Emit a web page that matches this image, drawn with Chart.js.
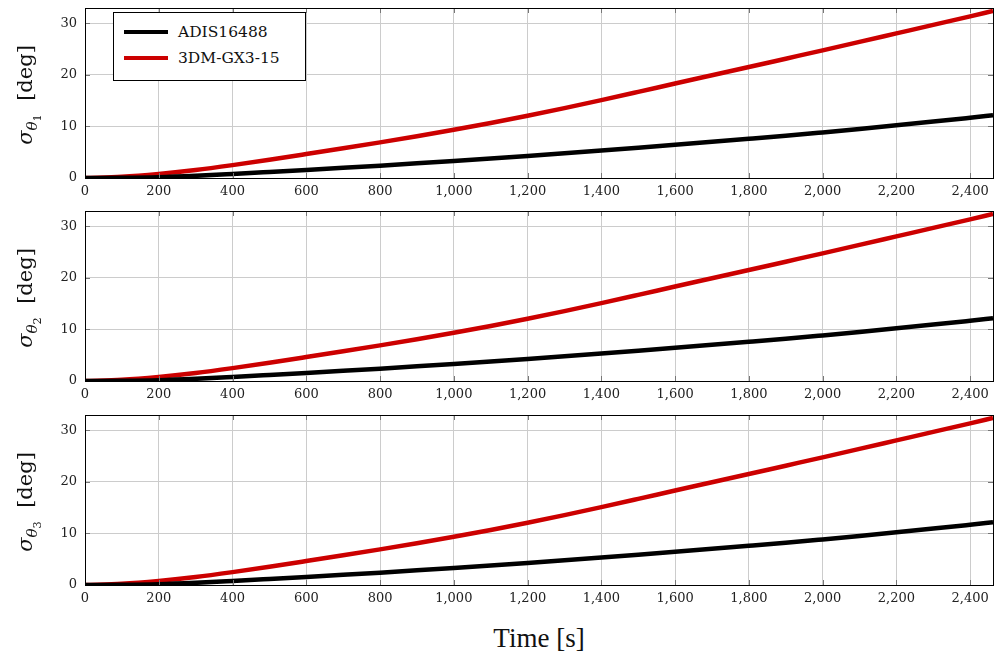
<!DOCTYPE html>
<html>
<head>
<meta charset="utf-8">
<script src="https://cdn.jsdelivr.net/npm/chart.js@4.4.1/dist/chart.umd.min.js"></script>
<style>
  body { margin: 0; background: #fff; }
  #wrap { position: relative; width: 996px; height: 658px; font-family: "DejaVu Serif", serif; }
  #wrap canvas { position: absolute; left: 0; }
  .ylab { position: absolute; left: 29px; transform: translate(-50%, -50%) rotate(-90deg);
          white-space: nowrap; font-size: 21px; color: #111; }
  .ylab sub { font-size: 72%; vertical-align: -0.35em; }
  .ylab sub sub { font-size: 75%; font-style: normal; }
  #xlab { position: absolute; left: 539px; top: 638px; transform: translate(-50%, -50%);
          font-size: 23px; color: #111; white-space: nowrap; font-family: "Liberation Serif", serif;
          font-size: 27px; }
  #legend { position: absolute; left: 113px; top: 12px; width: 191px; height: 67px;
            border: 1px solid #000; background: #fff; font-size: 15.5px; color: #111; }
  #legend .row { position: absolute; left: 10px; height: 20px; display: flex; align-items: center; }
  #legend .swatch { width: 44px; height: 4px; margin-right: 10px; }
</style>
</head>
<body>
<div id="wrap">
  <canvas id="c1" width="996" height="200" style="top:0px"></canvas>
  <canvas id="c2" width="996" height="200" style="top:203px"></canvas>
  <canvas id="c3" width="996" height="200" style="top:407px"></canvas>
  <div class="ylab" style="top:95px"><i>σ</i><sub><i>θ</i><sub>1</sub></sub>&nbsp;&nbsp;[deg]</div>
  <div class="ylab" style="top:298px"><i>σ</i><sub><i>θ</i><sub>2</sub></sub>&nbsp;&nbsp;[deg]</div>
  <div class="ylab" style="top:502px"><i>σ</i><sub><i>θ</i><sub>3</sub></sub>&nbsp;&nbsp;[deg]</div>
  <div id="xlab">Time [s]</div>
  <div id="legend">
    <div class="row" style="top:9px"><span class="swatch" style="background:#000"></span>ADIS16488</div>
    <div class="row" style="top:35px"><span class="swatch" style="background:#cc0000"></span>3DM-GX3-15</div>
  </div>
</div>
<script>
// time axis [s]
const timeValues = [0, 100, 200, 300, 400, 500, 600, 700, 800, 900, 1000, 1100, 1200,
  1300, 1400, 1500, 1600, 1700, 1800, 1900, 2000, 2100, 2200, 2300, 2400, 2462]
// attitude std dev [deg]
const adisValues = [0, 0.03, 0.15, 0.42, 0.78, 1.17, 1.57, 1.98, 2.4, 2.84, 3.3, 3.78, 4.28,
  4.8, 5.34, 5.89, 6.45, 7.02, 7.6, 8.2, 8.85, 9.52, 10.22, 10.95, 11.7, 12.17]
const gx3Values = [0, 0.25, 0.8, 1.55, 2.5, 3.55, 4.65, 5.77, 6.92, 8.1, 9.35, 10.67, 12.07,
  13.57, 15.12, 16.72, 18.34, 19.94, 21.54, 23.16, 24.78, 26.42, 28.07, 29.72, 31.38, 32.42]
const seriesNames = ["ADIS16488", "3DM-GX3-15"]
const xTicks = [0, 200, 400, 600, 800, 1000, 1200, 1400, 1600, 1800, 2000, 2200, 2400]
const yTicks = [0, 10, 20, 30]

const toPoints = vals => vals.map((v, i) => ({ x: timeValues[i], y: v }))

// pgfplots-like box with inward tick marks on all four sides
const framePlugin = {
  id: "frame",
  afterDraw(chart) {
    const { ctx, chartArea: a, scales } = chart
    ctx.save()
    ctx.strokeStyle = "#777"
    ctx.lineWidth = 1
    ctx.beginPath()
    xTicks.forEach(t => {
      const px = Math.round(scales.x.getPixelForValue(t)) + 0.5
      ctx.moveTo(px, a.bottom); ctx.lineTo(px, a.bottom - 5)
      ctx.moveTo(px, a.top); ctx.lineTo(px, a.top + 5)
    })
    yTicks.forEach(t => {
      const py = Math.round(scales.y.getPixelForValue(t)) + 0.5
      ctx.moveTo(a.left, py); ctx.lineTo(a.left + 5, py)
      ctx.moveTo(a.right, py); ctx.lineTo(a.right - 5, py)
    })
    ctx.stroke()
    ctx.strokeStyle = "#000"
    ctx.strokeRect(Math.round(a.left) + 0.5, Math.round(a.top) + 0.5,
      Math.round(a.right - a.left), Math.round(a.bottom - a.top))
    ctx.restore()
  }
}

function makePanel(id) {
  return new Chart(document.getElementById(id), {
    type: "line",
    data: {
      datasets: [
        { label: seriesNames[0], data: toPoints(adisValues), borderColor: "#000000", borderWidth: 4.5 },
        { label: seriesNames[1], data: toPoints(gx3Values), borderColor: "#cc0000", borderWidth: 4.5 }
      ]
    },
    options: {
      responsive: false,
      animation: false,
      layout: { padding: { top: 8, right: 3, left: 0, bottom: 0 } },
      elements: {
        point: { radius: 0 },
        line: { cubicInterpolationMode: "monotone", borderCapStyle: "butt" }
      },
      plugins: { legend: { display: false }, tooltip: { enabled: false } },
      scales: {
        x: {
          type: "linear", min: 0, max: 2462,
          afterFit: s => { s.height = 22; s.paddingLeft = 0; s.paddingRight = 0 },
          afterBuildTicks: s => { s.ticks = xTicks.map(v => ({ value: v })) },
          ticks: { padding: 6, color: "#222", maxRotation: 0,
            font: { family: "DejaVu Serif", size: 13 },
            callback: v => v.toLocaleString("en-US") },
          grid: { color: "#cccccc", lineWidth: 1, drawTicks: false },
          border: { display: false }
        },
        y: {
          min: 0, max: 33,
          afterFit: s => { s.width = 85; s.paddingTop = 0; s.paddingBottom = 0 },
          afterBuildTicks: s => { s.ticks = yTicks.map(v => ({ value: v })) },
          ticks: { padding: 8, color: "#222", font: { family: "DejaVu Serif", size: 13 } },
          grid: { color: "#cccccc", lineWidth: 1, drawTicks: false },
          border: { display: false }
        }
      }
    },
    plugins: [framePlugin]
  })
}

makePanel("c1")
makePanel("c2")
makePanel("c3")
</script>
</body>
</html>
